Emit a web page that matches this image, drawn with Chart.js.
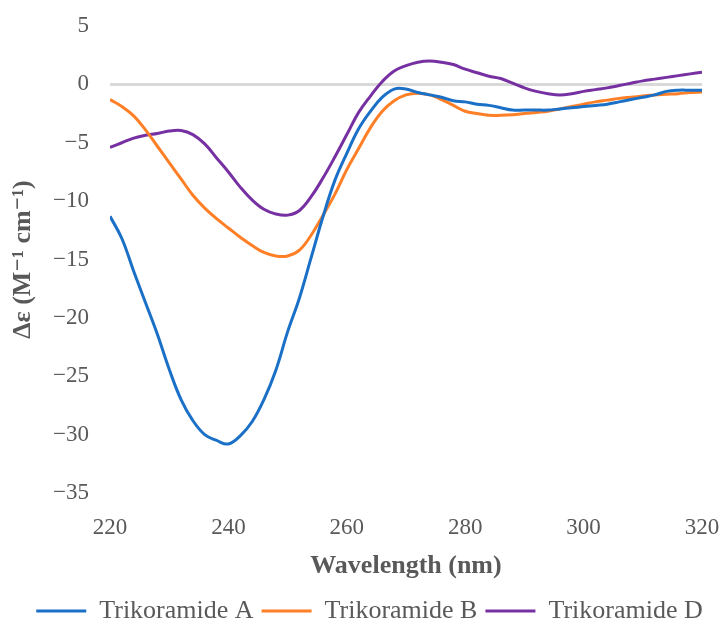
<!DOCTYPE html>
<html>
<head>
<meta charset="utf-8">
<script src="https://cdn.jsdelivr.net/npm/chart.js@4"></script>
<style>
  html, body { margin: 0; padding: 0; background: #fff; }
  #wrap { width: 723px; height: 619px; }
</style>
</head>
<body>
<div id="wrap"><canvas id="cdChart"></canvas></div>
<script>
// wavelengths (nm) and CD values
const wavelengths = [220, 222, 224, 226, 228, 230, 232, 234, 236, 238, 240, 242, 244, 246, 248, 250,
  252, 254, 256, 258, 260, 262, 264, 266, 268, 270, 272, 274, 276, 278, 280, 282, 284, 286, 288, 290,
  292, 294, 296, 298, 300, 302, 304, 306, 308, 310, 312, 314, 316, 318, 320];

const trikoramideA = [-11.3, -13.2, -16.0, -18.7, -21.4, -24.4, -27.0, -28.8, -30.0, -30.5, -30.8, -30.1,
  -28.9, -27.0, -24.5, -21.2, -18.3, -14.8, -11.3, -8.2, -5.9, -3.8, -2.3, -1.1, -0.4, -0.4, -0.7, -0.9,
  -1.1, -1.4, -1.5, -1.7, -1.8, -2.0, -2.2, -2.2, -2.2, -2.2, -2.1, -2.0, -1.9, -1.8, -1.7, -1.5, -1.3,
  -1.1, -0.9, -0.6, -0.5, -0.5, -0.5];

const trikoramideB = [-1.3, -1.9, -2.7, -3.9, -5.3, -6.7, -8.1, -9.5, -10.6, -11.5, -12.3, -13.1, -13.8,
  -14.4, -14.7, -14.7, -14.2, -12.9, -11.2, -9.4, -7.3, -5.5, -3.7, -2.3, -1.4, -0.9, -0.75, -0.9, -1.3,
  -1.8, -2.3, -2.5, -2.65, -2.65, -2.6, -2.5, -2.4, -2.3, -2.1, -1.9, -1.7, -1.5, -1.35, -1.2, -1.1,
  -1.0, -0.9, -0.85, -0.8, -0.7, -0.65];

const trikoramideD = [-5.4, -5.0, -4.6, -4.35, -4.2, -4.0, -3.95, -4.3, -5.1, -6.3, -7.5, -8.8, -9.9,
  -10.7, -11.1, -11.2, -10.8, -9.6, -8.0, -6.2, -4.3, -2.4, -1.0, 0.25, 1.15, 1.6, 1.9, 2.0, 1.9, 1.7,
  1.3, 1.0, 0.7, 0.5, 0.1, -0.3, -0.6, -0.8, -0.9, -0.8, -0.6, -0.45, -0.3, -0.1, 0.1, 0.3, 0.45, 0.6,
  0.75, 0.9, 1.05];

const seriesNames = ['Trikoramide A', 'Trikoramide B', 'Trikoramide D'];
const seriesColors = ['#1a70c6', '#ff7f27', '#7630a2'];

const fontFamily = '"Liberation Serif", "DejaVu Serif", serif';
const textColor = '#595959';

function toPoints(values) {
  return values.map((v, i) => ({ x: wavelengths[i], y: v }));
}

// nudge the legend a little to the right, like in the figure
const legendShift = {
  id: 'legendShift',
  afterLayout(chart) {
    if (chart.legend) {
      chart.legend.left += 6;
      chart.legend.right += 6;
    }
  }
};

const ctx = document.getElementById('cdChart');

new Chart(ctx, {
  type: 'line',
  data: {
    datasets: [trikoramideA, trikoramideB, trikoramideD].map((vals, i) => ({
      label: seriesNames[i],
      data: toPoints(vals),
      borderColor: seriesColors[i],
      backgroundColor: seriesColors[i],
      borderWidth: 3,
      pointRadius: 0,
      tension: 0.4,
      fill: false
    }))
  },
  options: {
    responsive: true,
    maintainAspectRatio: false,
    animation: false,
    layout: { padding: { top: 0, right: 0, left: 4, bottom: -15 } },
    scales: {
      x: {
        type: 'linear',
        min: 220,
        max: 320,
        border: { display: false },
        grid: { display: false, drawTicks: false },
        ticks: {
          stepSize: 20,
          color: textColor,
          font: { family: fontFamily, size: 23 },
          padding: 21
        },
        title: {
          display: true,
          text: 'Wavelength (nm)',
          color: textColor,
          font: { family: fontFamily, size: 26, weight: 'bold' },
          padding: { top: 4, bottom: 8 }
        },
        afterFit: scale => {
          scale.height = 97;
          scale.paddingRight = 21;
        }
      },
      y: {
        min: -35,
        max: 5,
        border: { display: false },
        grid: {
          color: c => c.tick && c.tick.value === 0 ? '#d9d9d9' : 'rgba(0,0,0,0)',
          lineWidth: 3,
          drawTicks: false
        },
        ticks: {
          stepSize: 5,
          color: textColor,
          font: { family: fontFamily, size: 23 },
          padding: 21,
          callback: v => String(v).replace('-', '\u2212')
        },
        title: {
          display: true,
          text: 'Δε (M⁻¹ cm⁻¹)',
          color: textColor,
          font: { family: fontFamily, size: 26, weight: 'bold' },
          padding: { top: 4, bottom: 4 }
        },
        afterFit: scale => {
          scale.width = 106;
          scale.paddingTop = 26;
        }
      }
    },
    plugins: {
      legend: {
        position: 'bottom',
        labels: {
          boxWidth: 50,
          boxHeight: 3,
          color: textColor,
          font: { family: fontFamily, size: 26 },
          padding: 8,
          generateLabels: chart => Chart.defaults.plugins.legend.labels.generateLabels(chart)
            .map(item => Object.assign(item, { lineWidth: 0 }))
        }
      },
      tooltip: { enabled: false }
    }
  },
  plugins: [legendShift]
});
</script>
</body>
</html>
